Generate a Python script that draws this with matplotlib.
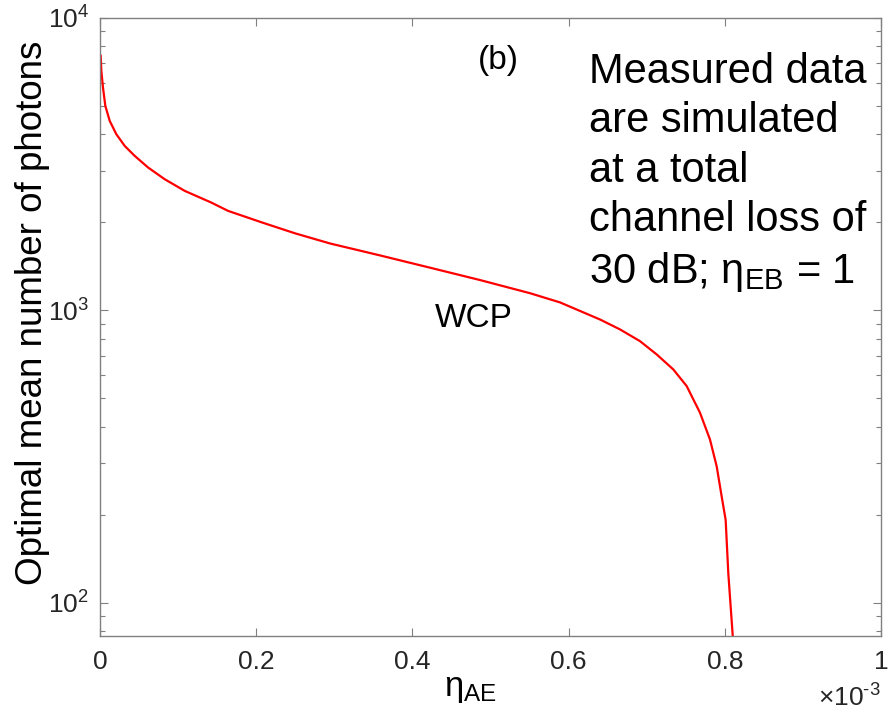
import numpy as np
import matplotlib
matplotlib.use("Agg")
import matplotlib.pyplot as plt
from matplotlib.ticker import LogLocator, NullFormatter, FixedLocator

plt.rcParams['font.family'] = ['Liberation Sans', 'DejaVu Sans']
plt.rcParams['mathtext.fontset'] = 'custom'
plt.rcParams['mathtext.rm'] = 'Liberation Sans'
plt.rcParams['mathtext.it'] = 'Liberation Sans:italic'
plt.rcParams['mathtext.bf'] = 'Liberation Sans:bold'

# eta_AE in units of 1e-3, optimal mean photon number
eta_ae = [0.0009, 0.0017, 0.0038, 0.0068, 0.0124, 0.0209, 0.0316, 0.0444,
          0.0615, 0.0828, 0.1085, 0.1425, 0.1639, 0.2071, 0.2497, 0.2945,
          0.3585, 0.4225, 0.4866, 0.5506, 0.589, 0.6402, 0.6658, 0.6914,
          0.7128, 0.7341, 0.7512, 0.7682, 0.7810, 0.7896, 0.7960, 0.8011,
          0.8045, 0.8101]
mu_opt = [7430, 6600, 5790, 5010, 4450, 4005, 3653, 3377,
          3082, 2810, 2563, 2338, 2190, 2000, 1835, 1694,
          1542, 1400, 1270, 1145, 1065, 931, 861, 785,
          707, 628, 551, 447, 362, 293, 231, 192,
          126, 77.6]

x_ticks = [0, 0.2, 0.4, 0.6, 0.8, 1]
x_tick_labels = ['0', '0.2', '0.4', '0.6', '0.8', '1']

fig = plt.figure(figsize=(8.95, 7.11), dpi=100)
ax = fig.add_axes([100/895, 1-636/711, 781/895, 618/711])

ax.plot(eta_ae, mu_opt, color='#ff0000', linewidth=1.6)

ax.set_yscale('log')
ax.set_xlim(0, 1)
ax.set_ylim(77, 1e4)
ax.set_xticks(x_ticks)
ax.set_xticklabels(x_tick_labels)
ax.yaxis.set_major_locator(FixedLocator([1e2, 1e3, 1e4]))
ax.yaxis.set_minor_locator(LogLocator(base=10, subs=np.arange(2, 10)))
ax.yaxis.set_minor_formatter(NullFormatter())

grey = '#808080'
for s in ax.spines.values():
    s.set_color(grey)
    s.set_linewidth(1.0)
ax.tick_params(which='both', direction='in', top=True, right=True,
               color=grey, labelcolor='#262626', labelsize=19)
ax.tick_params(axis='x', pad=10)
ax.tick_params(axis='y', pad=8)
ax.tick_params(which='major', length=6, width=0.8)
ax.tick_params(which='minor', length=3.5, width=0.8)

ax.set_ylabel('Optimal mean number of photons', fontsize=26.5)
ax.yaxis.set_label_coords(-0.064, 0.523)
ax.set_xlabel(r'η$_{\mathrm{AE}}$', fontsize=25)
ax.xaxis.set_label_coords(0.474, -0.058)

ax.text(1.0, -0.078, r'×10$^{\text{-3}}$', transform=ax.transAxes,
        ha='right', va='top', fontsize=19, color='#262626')

ax.text(0.51, 0.932, '(b)', transform=ax.transAxes, ha='center',
        va='center', fontsize=24)
ax.text(0.479, 0.513, 'WCP', transform=ax.transAxes, ha='center',
        va='center', fontsize=24)
ax.text(0.626, 0.945,
        'Measured data\nare simulated\nat a total\nchannel loss of\n30 dB; η$_{\\mathrm{EB}}$ = 1',
        transform=ax.transAxes, ha='left', va='top', fontsize=30,
        linespacing=1.3)

fig.savefig('out.png', dpi=100)
